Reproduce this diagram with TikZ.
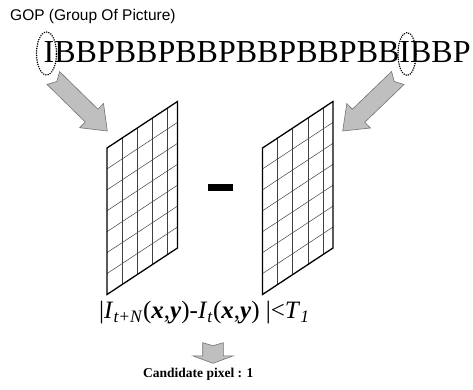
\documentclass[tikz,border=0pt]{standalone}
\usepackage{fontspec}
\setmainfont{Liberation Serif}
\newfontfamily\gopfont{Liberation Sans}
\usetikzlibrary{positioning,calc,shapes.geometric}

\tikzset{
  iring/.style={draw, ellipse, dash pattern=on 0.1pt off 2.2pt, line width=1.6pt, line cap=round, minimum width=20pt, minimum height=43pt, inner sep=0pt},
  fatarrow/.style={fill=black!25, draw=black!55, line width=0.6pt, line join=miter},
  gridline/.style={black!75, line width=0.5pt},
  frameline/.style={line width=1.3pt, line join=miter},
  label/.style={inner sep=0pt, anchor=base west}
}

% tail, tip, shaft half width, head half width, head length, notch depth
\newcommand{\gopArrow}[6]{%
  \coordinate (#1-h) at ($(#2)!#5!(#1)$);
  \draw[fatarrow] ($(#1)!#3!90:(#2)$) -- ($(#1)!#6!(#2)$) -- ($(#1)!#3!-90:(#2)$)
    -- ($(#1-h)!#3!-90:(#2)$) -- ($(#1-h)!#4!-90:(#2)$) -- (#2)
    -- ($(#1-h)!#4!90:(#2)$) -- ($(#1-h)!#3!90:(#2)$) -- cycle;}

% lower left corner, name
\newcommand{\gopFrame}[2]{%
  \begin{scope}[shift={(#1)}, x=1pt, y=1pt, yslant=0.66]
    \foreach \r in {1,...,6}
      \draw[gridline] (0,\r*20.93) -- (70.5,\r*20.93);
    \foreach \c in {15,30,45.5,60.5}
      \draw[gridline] (\c,0) -- (\c,146.5);
    \draw[frameline] (0,0) -- (70.5,0) -- (70.5,146.5) -- (0,146.5) -- cycle;
    \coordinate (#2) at (35.25,73.25);
  \end{scope}}

\begin{document}
\begin{tikzpicture}[x=1pt, y=-1pt]
  \useasboundingbox (0,0) rectangle (473,389);

  \node[label, font=\gopfont\fontsize{15.5}{17}\selectfont] (goptitle) at (10,20.7) {GOP (Group Of Picture)};
  \node[label, font=\fontsize{32}{36}\selectfont] (gopseq) at (43.5,62) {IBBPBBPBBPBBPBBPBBIBBP};

  \node[iring] (firsti) at (46.5,53.5) {};
  \node[iring, minimum width=18pt] (secondi) at (407,54) {};

  \coordinate (firsttail) at (53.3,78);
  \coordinate (firsttip) at (107.3,131);
  \coordinate (secondtail) at (397.8,78);
  \coordinate (secondtip) at (342.7,131);
  \gopArrow{firsttail}{firsttip}{9pt}{17pt}{22pt}{5pt}
  \gopArrow{secondtail}{secondtip}{9pt}{17pt}{22pt}{5pt}

  \gopFrame{107,294.5}{leftframe}
  \gopFrame{262.5,294.5}{rightframe}
  \node[fill=black, minimum width=25.6pt, minimum height=6.7pt, inner sep=0pt] (minus) at (220.5,187.5) {};

  \node[label, font=\fontsize{25}{28}\selectfont] (diff) at (99,318.3)
    {|\textit{I}\textsubscript{\textit{t+N}}(\textbf{\textit{x}},\textbf{\textit{y}})-\textit{I}\textsubscript{\textit{t}}(\textbf{\textit{x}},\textbf{\textit{y}}) |<\textit{T}\textsubscript{\textit{1}}};

  \coordinate (difftail) at (213,342.7);
  \coordinate (difftip) at (213,363.3);
  \gopArrow{difftail}{difftip}{10.3pt}{20.3pt}{7.5pt}{3pt}

  \node[label, font=\bfseries\fontsize{13.5}{15}\selectfont] (result) at (143,377) {Candidate pixel : 1};
\end{tikzpicture}
\end{document}
